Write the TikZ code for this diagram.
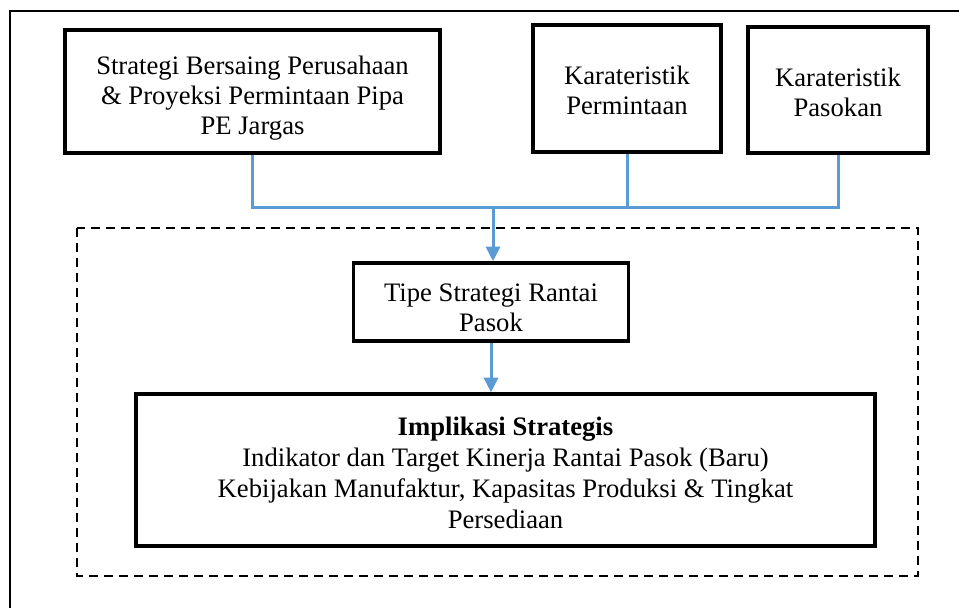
\documentclass[tikz,border=0pt]{standalone}
\usepackage{fontspec}
\setmainfont{Liberation Serif}
\usetikzlibrary{arrows.meta,calc}
\definecolor{linkblue}{RGB}{91,155,213}
\tikzset{
  box/.style={draw=black, line width=2.5pt, inner sep=0pt},
  boxtext/.style={inner sep=0pt, align=center,
                  font=\fontsize{20pt}{22.5pt}\selectfont},
  link/.style={draw=linkblue, line width=2.25pt},
  linkarrow/.style={link, -{Triangle[length=11pt,width=10.5pt]}},
  groupframe/.style={draw=black, line width=1.5pt, dash pattern=on 6.75pt off 4.5pt},
}
\begin{document}
\begin{tikzpicture}[x=0.75pt, y=-0.75pt]
  \useasboundingbox (0,0) rectangle (959,607);
  \fill[white] (0,0) rectangle (959,607);

  % outer frame (only its left and top edges fall inside the page)
  \draw[line width=1.5pt] (10,620) -- (10,11) -- (975,11);

  % dashed group around the strategy part
  \draw[groupframe] (77,228) rectangle (918,576);

  % input boxes
  \node[box, minimum width=281.25pt, minimum height=92.25pt] (b1) at (252.5,91.5) {};
  \node[boxtext, yshift=-5.25pt] (b1t) at (b1.center)
    {Strategi Bersaing Perusahaan\\ \& Proyeksi Permintaan Pipa\\ PE Jargas};
  \node[box, minimum width=141pt, minimum height=95.25pt] (b2) at (627,88.5) {};
  \node[boxtext, yshift=-1.5pt] (b2t) at (b2.center) {Karateristik\\ Permintaan};
  \node[box, minimum width=135pt, minimum height=94.5pt] (b3) at (838,90) {};
  \node[boxtext, yshift=-1.5pt] (b3t) at (b3.center) {Karateristik\\ Pasokan};

  % strategy type and implications
  \node[box, minimum width=206.25pt, minimum height=58.5pt] (tipe) at (491,302) {};
  \node[boxtext, yshift=-4.5pt] (tipet) at (tipe.center) {Tipe Strategi Rantai\\ Pasok};
  \node[box, minimum width=554.25pt, minimum height=114pt] (imp) at (505.5,470) {};
  \node[boxtext, yshift=-2.25pt, font=\fontsize{20pt}{23.25pt}\selectfont] (impt) at (imp.center)
    {\textbf{Implikasi Strategis}\\
     Indikator dan Target Kinerja Rantai Pasok (Baru)\\
     Kebijakan Manufaktur, Kapasitas Produksi \& Tingkat\\
     Persediaan};

  % connectors
  \coordinate (j) at (493,207);
  \draw[link] (b1.south) |- (j) -| (b3.south);
  \draw[link] (b2.south) -- (b2.south |- j);
  \draw[linkarrow] (j) -- (j |- tipe.north);
  \draw[linkarrow] (tipe.south) -- (tipe.south |- imp.north);
\end{tikzpicture}
\end{document}
